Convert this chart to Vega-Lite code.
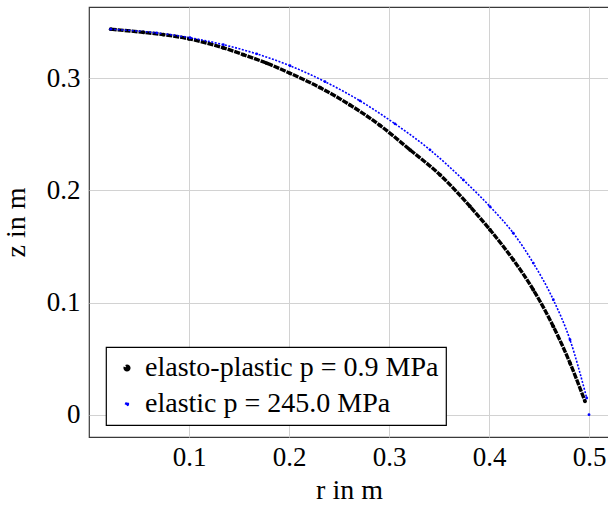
{
  "$schema": "https://vega.github.io/schema/vega-lite/v6.json",
  "width": 520,
  "height": 430,
  "autosize": {"type": "none"},
  "padding": {"left": 89, "top": 7, "right": 0, "bottom": 69},
  "config": {
    "font": "Liberation Serif",
    "view": {"stroke": "#3a3a3a", "strokeWidth": 1.2},
    "axis": {
      "labelFont": "Liberation Serif",
      "titleFont": "Liberation Serif",
      "labelFontSize": 27,
      "titleFontSize": 28,
      "titleFontWeight": "normal",
      "labelColor": "#000000",
      "titleColor": "#000000",
      "tickSize": 0,
      "domain": false,
      "gridColor": "#d2d2d2",
      "gridWidth": 1,
      "gridOpacity": 1
    },
    "legend": {
      "labelFont": "Liberation Serif",
      "labelFontSize": 28,
      "labelLimit": 1000,
      "labelColor": "#000000",
      "fillColor": "#ffffff",
      "strokeColor": "#000000",
      "strokeWidth": 1.2,
      "padding": 7,
      "rowPadding": 8,
      "labelOffset": 4,
      "symbolType": "circle",
      "symbolSize": 8,
      "symbolStrokeWidth": 0
    }
  },
  "data": {
    "values": [
      {"series": "elasto-plastic p = 0.9 MPa", "seg": "c", "r": 0.0217, "z": 0.3438},
      {"series": "elasto-plastic p = 0.9 MPa", "seg": "c", "r": 0.0543, "z": 0.3410},
      {"series": "elasto-plastic p = 0.9 MPa", "seg": "c", "r": 0.0743, "z": 0.3390},
      {"series": "elasto-plastic p = 0.9 MPa", "seg": "c", "r": 0.1000, "z": 0.3352},
      {"series": "elasto-plastic p = 0.9 MPa", "seg": "c", "r": 0.1343, "z": 0.3272},
      {"series": "elasto-plastic p = 0.9 MPa", "seg": "c", "r": 0.1543, "z": 0.3211},
      {"series": "elasto-plastic p = 0.9 MPa", "seg": "c", "r": 0.1777, "z": 0.3135},
      {"series": "elasto-plastic p = 0.9 MPa", "seg": "c", "r": 0.2010, "z": 0.3045},
      {"series": "elasto-plastic p = 0.9 MPa", "seg": "c", "r": 0.2310, "z": 0.2917},
      {"series": "elasto-plastic p = 0.9 MPa", "seg": "c", "r": 0.2610, "z": 0.2762},
      {"series": "elasto-plastic p = 0.9 MPa", "seg": "c", "r": 0.2910, "z": 0.2580},
      {"series": "elasto-plastic p = 0.9 MPa", "seg": "c", "r": 0.3210, "z": 0.2362},
      {"series": "elasto-plastic p = 0.9 MPa", "seg": "c", "r": 0.3510, "z": 0.2139},
      {"series": "elasto-plastic p = 0.9 MPa", "seg": "c", "r": 0.3810, "z": 0.1857},
      {"series": "elasto-plastic p = 0.9 MPa", "seg": "c", "r": 0.4010, "z": 0.1649},
      {"series": "elasto-plastic p = 0.9 MPa", "seg": "c", "r": 0.4243, "z": 0.1381},
      {"series": "elasto-plastic p = 0.9 MPa", "seg": "c", "r": 0.4443, "z": 0.1114},
      {"series": "elasto-plastic p = 0.9 MPa", "seg": "c", "r": 0.4643, "z": 0.0787},
      {"series": "elasto-plastic p = 0.9 MPa", "seg": "c", "r": 0.4810, "z": 0.0461},
      {"series": "elasto-plastic p = 0.9 MPa", "seg": "c", "r": 0.4960, "z": 0.0119},
      {"series": "elastic p = 245.0 MPa", "seg": "c", "r": 0.0217, "z": 0.3438},
      {"series": "elastic p = 245.0 MPa", "seg": "c", "r": 0.0677, "z": 0.3405},
      {"series": "elastic p = 245.0 MPa", "seg": "c", "r": 0.1010, "z": 0.3362},
      {"series": "elastic p = 245.0 MPa", "seg": "c", "r": 0.1343, "z": 0.3300},
      {"series": "elastic p = 245.0 MPa", "seg": "c", "r": 0.1677, "z": 0.3218},
      {"series": "elastic p = 245.0 MPa", "seg": "c", "r": 0.2010, "z": 0.3112},
      {"series": "elastic p = 245.0 MPa", "seg": "c", "r": 0.2360, "z": 0.2970},
      {"series": "elastic p = 245.0 MPa", "seg": "c", "r": 0.2710, "z": 0.2799},
      {"series": "elastic p = 245.0 MPa", "seg": "c", "r": 0.3060, "z": 0.2594},
      {"series": "elastic p = 245.0 MPa", "seg": "c", "r": 0.3410, "z": 0.2362},
      {"series": "elastic p = 245.0 MPa", "seg": "c", "r": 0.3743, "z": 0.2094},
      {"series": "elastic p = 245.0 MPa", "seg": "c", "r": 0.4010, "z": 0.1856},
      {"series": "elastic p = 245.0 MPa", "seg": "c", "r": 0.4243, "z": 0.1619},
      {"series": "elastic p = 245.0 MPa", "seg": "c", "r": 0.4443, "z": 0.1352},
      {"series": "elastic p = 245.0 MPa", "seg": "c", "r": 0.4643, "z": 0.1025},
      {"series": "elastic p = 245.0 MPa", "seg": "c", "r": 0.4810, "z": 0.0668},
      {"series": "elastic p = 245.0 MPa", "seg": "c", "r": 0.4977, "z": 0.0149},
      {"series": "elastic p = 245.0 MPa", "seg": "p", "r": 0.5000, "z": 0.0000}
    ]
  },
  "encoding": {
    "x": {
      "field": "r", "type": "quantitative",
      "scale": {"domain": [0, 0.52], "nice": false, "zero": false},
      "axis": {"values": [0.1, 0.2, 0.3, 0.4, 0.5], "format": ".1f", "title": "r in m", "labelPadding": 7, "titlePadding": 6}
    },
    "y": {
      "field": "z", "type": "quantitative",
      "scale": {"domain": [-0.0199, 0.3636], "nice": false, "zero": false},
      "axis": {"values": [0, 0.1, 0.2, 0.3], "labelExpr": "datum.value == 0 ? '0' : format(datum.value, '.1f')", "title": "z in m", "labelPadding": 9, "titlePadding": 16}
    },
    "color": {
      "field": "series", "type": "nominal",
      "scale": {"domain": ["elasto-plastic p = 0.9 MPa", "elastic p = 245.0 MPa"], "range": ["#000000", "#0000ff"]},
      "legend": {"title": null, "orient": "none", "legendX": 17, "legendY": 340, "symbolType": "circle"}
    }
  },
  "layer": [
    {
      "transform": [{"filter": "datum.seg == 'c'"}],
      "mark": {"type": "line", "interpolate": "monotone", "strokeCap": "butt"},
      "encoding": {
        "detail": {"field": "seg"},
        "strokeWidth": {"field": "series", "type": "nominal", "scale": {"domain": ["elasto-plastic p = 0.9 MPa", "elastic p = 245.0 MPa"], "range": [3.4, 1.6]}, "legend": null},
        "strokeDash": {"field": "series", "type": "nominal", "scale": {"domain": ["elasto-plastic p = 0.9 MPa", "elastic p = 245.0 MPa"], "range": [[6, 1], [2, 1.5]]}, "legend": null}
      }
    },
    {
      "mark": {"type": "point", "filled": true, "opacity": 1},
      "encoding": {
        "size": {"field": "series", "type": "nominal", "scale": {"domain": ["elasto-plastic p = 0.9 MPa", "elastic p = 245.0 MPa"], "range": [14, 8]}, "legend": null}
      }
    }
  ]
}
